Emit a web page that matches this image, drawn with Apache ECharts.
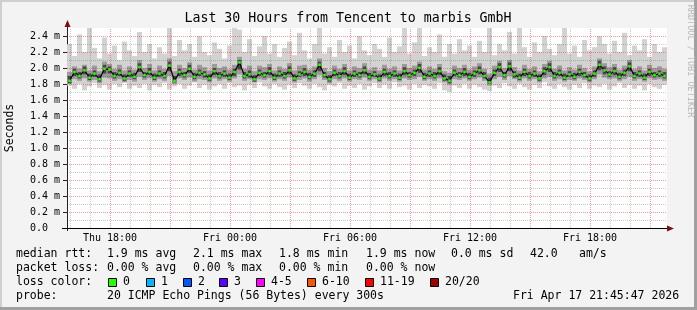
<!DOCTYPE html>
<html><head><meta charset="utf-8">
<script src="https://cdn.jsdelivr.net/npm/echarts@6/dist/echarts.min.js"></script>
<style>html,body{margin:0;padding:0;background:#f3f3f3;}#c{width:697px;height:310px;}</style>
</head><body><div id="c"></div>
<script>
// ---- data ----
const startHour = 15.85;   // hours since Thu 00:00 (Thu 15:51)
const spanHours = 30;
const stepHours = 0.25;
const med = [1.84,1.95,1.90,1.97,1.88,1.93,1.86,1.99,1.98,1.90,
1.94,1.87,1.93,1.89,2.01,1.91,1.95,1.88,1.93,1.90,
2.03,1.84,1.95,1.91,1.99,1.89,1.94,1.92,1.87,1.96,
1.90,1.93,1.88,1.95,2.07,1.90,1.92,1.86,1.94,1.91,
1.96,1.88,1.93,1.90,1.97,1.87,1.92,1.95,1.89,1.93,
2.04,1.91,1.86,1.94,1.90,1.96,1.88,1.93,1.91,1.97,
1.89,1.92,1.87,1.95,1.90,1.93,1.88,1.96,1.91,1.94,
2.00,1.89,1.93,1.90,1.96,1.87,1.84,1.94,1.91,1.95,
1.89,1.93,1.97,1.90,1.82,1.94,2.01,1.91,2.02,1.92,
1.88,1.95,1.90,1.93,1.87,1.96,2.01,1.90,1.94,1.88,
1.92,1.89,1.95,1.91,1.87,1.93,2.04,1.97,1.92,1.96,
1.89,1.94,2.02,1.90,1.93,1.88,1.95,1.91,1.93,1.90];
const lo = [1.78,1.74,1.80,1.72,1.77,1.81,1.75,1.79,1.73,1.80,
1.76,1.82,1.74,1.78,1.75,1.80,1.72,1.79,1.76,1.81,
1.73,1.77,1.80,1.74,1.78,1.82,1.75,1.79,1.73,1.77,
1.80,1.74,1.81,1.76,1.78,1.72,1.79,1.75,1.82,1.77,
1.74,1.80,1.76,1.73,1.79,1.75,1.81,1.78,1.74,1.80,
1.76,1.72,1.79,1.77,1.81,1.74,1.78,1.75,1.80,1.73,
1.77,1.81,1.75,1.79,1.74,1.82,1.76,1.78,1.73,1.80,
1.75,1.79,1.77,1.74,1.81,1.72,1.70,1.78,1.75,1.80,
1.74,1.79,1.76,1.73,1.71,1.78,1.75,1.81,1.77,1.74,
1.80,1.76,1.73,1.79,1.75,1.82,1.77,1.74,1.80,1.76,
1.73,1.79,1.75,1.81,1.74,1.78,1.76,1.80,1.73,1.77,
1.81,1.75,1.79,1.74,1.78,1.72,1.80,1.76,1.74,1.79];
const mlo = [1.80,1.86,1.84,1.87,1.83,1.85,1.81,1.88,1.87,1.84,
1.86,1.82,1.85,1.83,1.89,1.85,1.87,1.83,1.86,1.84,
1.90,1.80,1.87,1.85,1.88,1.83,1.86,1.85,1.82,1.87,
1.84,1.86,1.83,1.87,1.92,1.84,1.86,1.82,1.86,1.85,
1.87,1.83,1.86,1.84,1.88,1.82,1.85,1.87,1.83,1.86,
1.91,1.85,1.81,1.86,1.84,1.87,1.83,1.86,1.85,1.88,
1.84,1.86,1.82,1.87,1.84,1.86,1.83,1.87,1.85,1.86,
1.89,1.84,1.86,1.84,1.87,1.82,1.79,1.86,1.85,1.87,
1.84,1.86,1.88,1.84,1.78,1.86,1.89,1.85,1.90,1.86,
1.83,1.87,1.84,1.86,1.82,1.87,1.89,1.84,1.86,1.83,
1.85,1.84,1.87,1.85,1.82,1.86,1.92,1.88,1.86,1.87,
1.84,1.86,1.89,1.84,1.86,1.83,1.87,1.85,1.86,1.84];
const ilo = [1.81,1.90,1.87,1.92,1.85,1.89,1.83,1.93,1.93,1.87,
1.90,1.84,1.89,1.86,1.95,1.88,1.91,1.85,1.89,1.87,
1.96,1.82,1.90,1.88,1.94,1.86,1.90,1.88,1.84,1.91,
1.87,1.89,1.85,1.90,1.98,1.87,1.88,1.83,1.90,1.88,
1.91,1.85,1.89,1.87,1.92,1.84,1.89,1.90,1.86,1.89,
1.96,1.88,1.83,1.90,1.87,1.91,1.85,1.89,1.88,1.92,
1.86,1.89,1.84,1.90,1.87,1.89,1.85,1.91,1.88,1.90,
1.94,1.86,1.89,1.87,1.91,1.84,1.81,1.90,1.88,1.90,
1.86,1.89,1.92,1.87,1.80,1.90,1.95,1.88,1.96,1.88,
1.85,1.90,1.87,1.89,1.84,1.91,1.95,1.87,1.90,1.85,
1.89,1.86,1.90,1.88,1.84,1.89,1.97,1.92,1.89,1.91,
1.86,1.90,1.96,1.87,1.89,1.85,1.90,1.88,1.89,1.87];
const ihi = [1.90,1.99,1.95,2.02,1.93,1.97,1.92,2.04,2.02,1.95,
1.98,1.92,1.97,1.94,2.06,1.95,2.00,1.93,1.97,1.95,
2.08,1.90,1.99,1.95,2.04,1.94,1.98,1.96,1.92,2.00,
1.95,1.97,1.93,1.99,2.10,1.95,1.97,1.91,1.98,1.95,
2.01,1.93,1.97,1.95,2.02,1.92,1.96,2.00,1.94,1.97,
2.08,1.95,1.91,1.98,1.95,2.01,1.93,1.97,1.95,2.02,
1.94,1.96,1.92,1.99,1.95,1.97,1.93,2.01,1.95,1.98,
2.05,1.94,1.97,1.95,2.01,1.92,1.90,1.98,1.95,2.00,
1.94,1.97,2.02,1.95,1.88,1.98,2.06,1.95,2.07,1.96,
1.93,1.99,1.95,1.97,1.92,2.01,2.06,1.95,1.98,1.93,
1.96,1.94,1.99,1.95,1.92,1.97,2.09,2.02,1.96,2.01,
1.94,1.98,2.07,1.95,1.97,1.93,1.99,1.95,1.97,1.95];
const mhi = [1.95,2.02,1.99,2.04,1.97,2.03,1.96,2.08,2.05,1.99,
2.04,1.97,2.02,1.98,2.10,2.00,2.05,1.97,2.03,1.99,
2.12,1.96,2.04,2.00,2.07,1.98,2.04,2.01,1.97,2.05,
2.00,2.02,1.98,2.04,2.14,1.99,2.03,1.96,2.03,2.01,
2.05,1.97,2.02,1.99,2.06,1.97,2.03,2.04,1.98,2.02,
2.12,2.00,1.96,2.03,1.99,2.05,1.97,2.02,2.00,2.06,
1.98,2.01,1.97,2.04,1.99,2.02,1.97,2.05,2.00,2.03,
2.08,1.98,2.02,1.99,2.05,1.96,1.94,2.03,2.00,2.04,
1.98,2.02,2.06,1.99,1.93,2.03,2.09,2.00,2.10,2.01,
1.97,2.04,1.99,2.02,1.96,2.05,2.09,1.99,2.03,1.97,
2.01,1.98,2.04,2.00,1.96,2.02,2.12,2.06,2.01,2.05,
1.98,2.03,2.10,1.99,2.02,1.97,2.04,2.00,2.02,1.99];
const hi = [2.30,2.15,2.42,2.20,2.50,2.25,2.12,2.38,2.18,2.28,
2.10,2.33,2.22,2.15,2.45,2.20,2.30,2.12,2.26,2.18,
2.50,2.15,2.35,2.22,2.30,2.14,2.40,2.20,2.16,2.32,
2.24,2.12,2.28,2.50,2.48,2.20,2.36,2.15,2.27,2.40,
2.18,2.30,2.14,2.25,2.33,2.16,2.44,2.22,2.12,2.30,
2.50,2.18,2.26,2.14,2.35,2.20,2.28,2.12,2.40,2.22,
2.16,2.30,2.24,2.14,2.38,2.20,2.27,2.50,2.18,2.32,
2.50,2.15,2.26,2.20,2.42,2.14,2.30,2.18,2.36,2.22,
2.28,2.14,2.34,2.20,2.50,2.16,2.30,2.22,2.45,2.18,
2.50,2.26,2.14,2.32,2.20,2.40,2.24,2.16,2.30,2.50,
2.18,2.28,2.14,2.35,2.22,2.26,2.40,2.30,2.18,2.34,
2.20,2.44,2.16,2.28,2.22,2.36,2.14,2.30,2.20,2.26];
const xTickHours = [18, 24, 30, 36, 42];
const xTickLabels = ['Thu 18:00', 'Fri 00:00', 'Fri 06:00', 'Fri 12:00', 'Fri 18:00'];
const yTickValues = [0, 0.2, 0.4, 0.6, 0.8, 1.0, 1.2, 1.4, 1.6, 1.8, 2.0, 2.2, 2.4];
const titleText = 'Last 30 Hours from Tencent to marbis GmbH';
const rttStats = ['1.9 ms avg', '2.1 ms max', '1.8 ms min', '1.9 ms now', '0.0 ms sd', '42.0', 'am/s'];
const lossStats = ['0.00 % avg', '0.00 % max', '0.00 % min', '0.00 % now'];
const lossLabels = ['0', '1', '2', '3', '4-5', '6-10', '11-19', '20/20'];
const lossColors = ['#26ff00', '#00b8ff', '#0059ff', '#5e00ff', '#ff00ff', '#ff5500', '#ff0000', '#a10000'];
const probeText = '20 ICMP Echo Pings (56 Bytes) every 300s';
const dateText = 'Fri Apr 17 21:45:47 2026';

// ---- layout ----
const G = {left: 67, top: 28, width: 600, height: 200};
const MONO = '"DejaVu Sans Mono", monospace';
const LF = '11.5px ' + MONO;

const times = med.map((m, i) => startHour + stepHours * (i + 0.5));
const smokeData = med.map((m, i) => [times[i], lo[i], mlo[i], ilo[i], ihi[i], mhi[i], hi[i]]);
const medData = med.map((m, i) => [times[i], m]);

const gridLines = [];
for (let h = Math.ceil(startHour); h < startHour + spanHours; h++) {
  const major = h % 3 === 0;
  gridLines.push({xAxis: h, lineStyle: {color: major ? 'rgba(255,0,0,0.38)' : 'rgba(0,0,0,0.2)', type: [1, 1], width: 1}});
}
for (let k = 1; k <= 24; k++) {
  const major = k % 2 === 0;
  gridLines.push({yAxis: k / 10, lineStyle: {color: major ? 'rgba(255,0,0,0.38)' : 'rgba(0,0,0,0.2)', type: [1, 1], width: 1}});
}

function txt(x, y, s, extra) {
  return Object.assign({type: 'text', x: x, y: y, z: 100, silent: true,
    style: Object.assign({text: s, font: LF, fill: '#000', align: 'left', verticalAlign: 'middle',
      textAlign: 'left', textVerticalAlign: 'middle'}, (extra && extra.style) || {})},
    extra ? {rotation: extra.rotation || 0} : {});
}

const graphics = [];
graphics.push({type: 'rect', shape: {x: 0, y: 0, width: 697, height: 2}, style: {fill: '#cfcfcf'}, z: 100, silent: true});
graphics.push({type: 'rect', shape: {x: 0, y: 0, width: 2, height: 310}, style: {fill: '#cfcfcf'}, z: 100, silent: true});
graphics.push({type: 'rect', shape: {x: 0, y: 307, width: 697, height: 3}, style: {fill: '#a0a0a0'}, z: 100, silent: true});
graphics.push({type: 'rect', shape: {x: 694, y: 0, width: 3, height: 310}, style: {fill: '#a0a0a0'}, z: 100, silent: true});
graphics.push(txt(348, 19, titleText, {style: {font: '13.25px ' + MONO, align: 'center', textAlign: 'center'}}));
graphics.push(txt(10, 128, 'Seconds', {rotation: Math.PI / 2, style: {align: 'center', textAlign: 'center'}}));
graphics.push(txt(690, 61, 'RRDTOOL / TOBI OETIKER', {rotation: -Math.PI / 2, style: {font: '8.5px ' + MONO, fill: '#b8b8b8', align: 'center', textAlign: 'center'}}));
graphics.push({type: 'line', shape: {x1: 67.5, y1: 28, x2: 67.5, y2: 24}, style: {stroke: '#222', lineWidth: 1}, z: 100, silent: true});
graphics.push({type: 'line', shape: {x1: 67.5, y1: 228, x2: 67.5, y2: 231}, style: {stroke: '#222', lineWidth: 1}, z: 100, silent: true});
graphics.push({type: 'line', shape: {x1: 62, y1: 228.5, x2: 67, y2: 228.5}, style: {stroke: '#000', lineWidth: 1}, z: 100, silent: true});
graphics.push({type: 'polygon', shape: {points: [[67.5, 20], [64.5, 27], [70.5, 27]]}, style: {fill: '#7f0f0f'}, z: 100, silent: true});
graphics.push({type: 'polygon', shape: {points: [[674, 228.5], [667, 225.5], [667, 231.5]]}, style: {fill: '#7f0f0f'}, z: 100, silent: true});
const rowY = [254, 268, 282, 296];
const colX = [107, 193, 279, 366, 451, 530, 579];
graphics.push(txt(16, rowY[0], 'median rtt:'));
rttStats.forEach((s, i) => graphics.push(txt(colX[i], rowY[0], s)));
graphics.push(txt(16, rowY[1], 'packet loss:'));
lossStats.forEach((s, i) => graphics.push(txt(colX[i], rowY[1], s)));
graphics.push(txt(16, rowY[2], 'loss color:'));
const swX = [108, 146, 183, 219, 256, 307, 365, 430];
lossLabels.forEach((s, i) => {
  graphics.push({type: 'rect', shape: {x: swX[i] + 0.5, y: rowY[2] - 3.5, width: 8, height: 8},
    style: {fill: lossColors[i], stroke: '#000', lineWidth: 1}, z: 100, silent: true});
  graphics.push(txt(swX[i] + 15, rowY[2] + 0.5, s));
});
graphics.push(txt(16, rowY[3], 'probe:'));
graphics.push(txt(107, rowY[3], probeText));
graphics.push(txt(513, rowY[3], dateText));

const chart = echarts.init(document.getElementById('c'), null, {renderer: 'canvas'});
chart.setOption({
  animation: false,
  backgroundColor: '#f3f3f3',
  grid: Object.assign({show: true, backgroundColor: '#ffffff', borderWidth: 0, containLabel: false, outerBoundsMode: 'none'}, G),
  xAxis: {
    type: 'value', min: startHour, max: startHour + spanHours,
    axisLine: {show: true, onZero: false, lineStyle: {color: '#000', width: 1}},
    axisTick: {show: false},
    splitLine: {show: false},
    axisLabel: {
      customValues: xTickHours, margin: 5, fontFamily: 'DejaVu Sans Mono', fontSize: 10, color: '#000',
      formatter: v => { const i = xTickHours.indexOf(Math.round(v)); return (i >= 0 && Math.abs(v - xTickHours[i]) < 1e-6) ? xTickLabels[i] : ''; }
    }
  },
  yAxis: {
    type: 'value', min: 0, max: 2.5, interval: 0.2,
    axisLine: {show: true, lineStyle: {color: '#222', width: 1}},
    axisTick: {show: true, length: 4, customValues: yTickValues, lineStyle: {color: '#222'}},
    splitLine: {show: false},
    axisLabel: {
      customValues: yTickValues, margin: 7, fontFamily: 'DejaVu Sans Mono', fontSize: 10, color: '#000',
      formatter: v => v === 0 ? '0.0  ' : v.toFixed(1) + ' m'
    }
  },
  series: [
    {
      type: 'line', data: [[startHour, 0]], showSymbol: false, silent: true, z: 1,
      lineStyle: {opacity: 0},
      markLine: {silent: true, symbol: ['none', 'none'], label: {show: false}, animation: false,
        emphasis: {disabled: true}, data: gridLines}
    },
    {
      type: 'custom', data: smokeData, z: 2, silent: true, clip: true,
      renderItem: (params, api) => {
        const t = api.value(0);
        const w = api.size([stepHours, 0])[0];
        const y = k => api.coord([t, api.value(k)])[1];
        const x = api.coord([t, 0])[0] - w / 2;
        const band = (a, b, fill, ww) => ({type: 'rect',
          shape: {x: x + (w - ww) / 2, y: y(b), width: ww, height: y(a) - y(b)}, style: {fill: fill}});
        return {type: 'group', children: [
          band(1, 6, '#d2d2d2', w),
          band(2, 5, '#9c9c9c', w),
          band(3, 4, '#474747', w * 0.7)
        ]};
      }
    },
    {
      type: 'line', data: medData, z: 5, silent: true,
      symbol: 'rect', symbolSize: 2.6, showSymbol: true,
      itemStyle: {color: '#26ff00', borderWidth: 0},
      lineStyle: {color: '#000', width: 1.2},
      emphasis: {disabled: true}
    }
  ],
  graphic: graphics
});
</script></body></html>
